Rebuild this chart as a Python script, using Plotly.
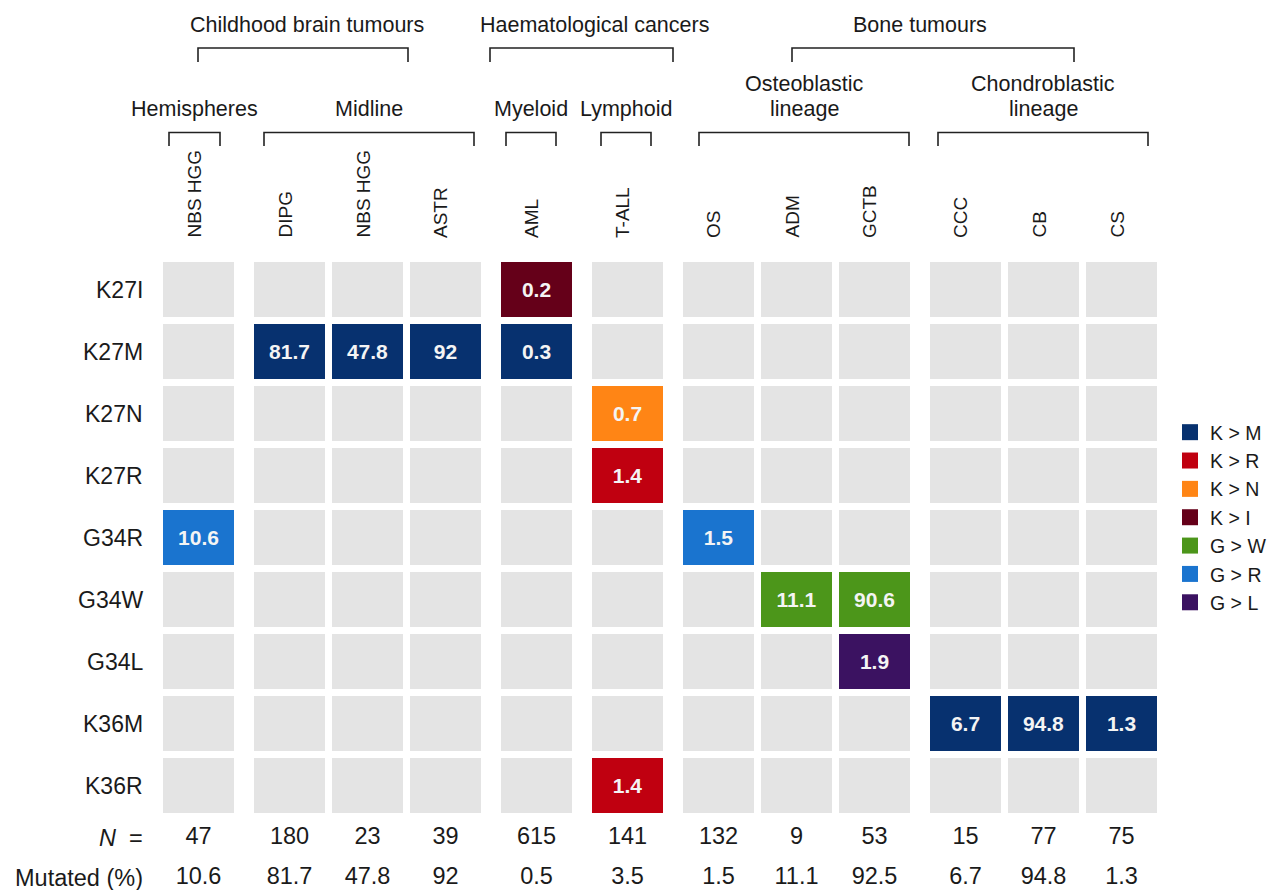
import plotly.graph_objects as go

# ---------------- data ----------------
columns = ["NBS HGG", "DIPG", "NBS HGG", "ASTR", "AML", "T-ALL",
           "OS", "ADM", "GCTB", "CCC", "CB", "CS"]
column_group = [0, 1, 1, 1, 2, 3, 4, 4, 4, 5, 5, 5]
mutations = ["K27I", "K27M", "K27N", "K27R", "G34R", "G34W", "G34L", "K36M", "K36R"]
n_samples = [47, 180, 23, 39, 615, 141, 132, 9, 53, 15, 77, 75]
mutated_pct = [10.6, 81.7, 47.8, 92, 0.5, 3.5, 1.5, 11.1, 92.5, 6.7, 94.8, 1.3]

hit_row = ["K27I", "K27M", "K27M", "K27M", "K27M", "K27N", "K27R", "G34R",
           "G34R", "G34W", "G34W", "G34L", "K36M", "K36M", "K36M", "K36R"]
hit_col = [4, 1, 2, 3, 4, 5, 5, 0, 6, 7, 8, 8, 9, 10, 11, 5]
hit_pct = [0.2, 81.7, 47.8, 92, 0.3, 0.7, 1.4, 10.6, 1.5, 11.1, 90.6, 1.9,
           6.7, 94.8, 1.3, 1.4]
hit_change = ["K > I", "K > M", "K > M", "K > M", "K > M", "K > N", "K > R",
              "G > R", "G > R", "G > W", "G > W", "G > L", "K > M", "K > M",
              "K > M", "K > R"]
changes = ["K > M", "K > R", "K > N", "K > I", "G > W", "G > R", "G > L"]

subgroups = ["Hemispheres", "Midline", "Myeloid", "Lymphoid",
             "Osteoblastic<br>lineage", "Chondroblastic<br>lineage"]
subgroup_cols = [(0, 0), (1, 3), (4, 4), (5, 5), (6, 8), (9, 11)]
supergroups = ["Childhood brain tumours", "Haematological cancers", "Bone tumours"]
supergroup_cols = [(0, 3), (4, 5), (6, 11)]

# ---------------- styles / layout ----------------
FONT = "Liberation Sans, Arial, sans-serif"
INK = "#1a1a1a"
GRAY = "#e4e4e4"
COLORS = {"K > M": "#07316f", "K > R": "#c00010", "K > N": "#ff8515",
          "K > I": "#650019", "G > W": "#4c961a", "G > R": "#1a74cf",
          "G > L": "#3b1261"}
W, H = 1278, 890
OFF = 8  # page body margin; the plot area is mapped onto window pixels
X0, PITCH, GAP = 198.5, 78, 13
Y0, RPITCH = 289.5, 62
CELL_W, CELL_H = 71, 55
N_Y, MUT_Y = 838, 878
LABEL_X = 145
COLLABEL_Y = 240
SUB_Y, SUB_LINE = 109, 25
SUB_BR = (132.5, 146)
SUB_PAD = [(-29.5, 21.5), (-25.5, 28.5), (-30.5, 19.5), (-26.5, 23.5),
           (-19.5, 34.5), (-27.5, 26.5)]
SUP_Y = 25
SUP_BR = (48, 62)
SUP_PAD = [(-0.5, -37.5), (-46.5, 45.5), (73.5, -47.5)]
SUP_TXT_SHIFT = [3.5, 12.5, -13]

col_x = [X0 + i * PITCH + g * GAP for i, g in enumerate(column_group)]
row_y = {m: Y0 + j * RPITCH for j, m in enumerate(mutations)}

fig = go.Figure()

# gray empty cells
hits = set(zip(hit_row, hit_col))
gx, gb = [], []
for m in mutations:
    for i in range(len(columns)):
        if (m, i) not in hits:
            gx.append(col_x[i])
            gb.append(row_y[m] - CELL_H / 2)
fig.add_trace(go.Bar(x=gx, y=[CELL_H] * len(gx), base=gb, width=CELL_W,
                     marker=dict(color=GRAY, line=dict(width=0)),
                     showlegend=False, hoverinfo="skip"))

# coloured mutated cells, one trace per change
for ch in changes:
    idx = [k for k, c in enumerate(hit_change) if c == ch]
    fig.add_trace(go.Bar(
        x=[col_x[hit_col[k]] for k in idx],
        y=[CELL_H] * len(idx),
        base=[row_y[hit_row[k]] - CELL_H / 2 for k in idx],
        width=CELL_W,
        marker=dict(color=COLORS[ch], line=dict(width=0)),
        text=[f"<b>{hit_pct[k]:g}</b>" for k in idx],
        textposition="inside", insidetextanchor="middle", textangle=0,
        constraintext="none",
        textfont=dict(family=FONT, size=21, color="#f4f4f4"),
        showlegend=False, hoverinfo="skip"))

# legend entries
for ch in changes:
    fig.add_trace(go.Scatter(x=[None], y=[None], mode="markers", name=ch,
                             marker=dict(symbol="square", size=16, color=COLORS[ch])))

# N and mutated rows
fig.add_trace(go.Scatter(x=col_x, y=[N_Y] * len(col_x), mode="text",
                         text=[str(v) for v in n_samples],
                         textfont=dict(family=FONT, size=23.5, color=INK),
                         showlegend=False, hoverinfo="skip"))
fig.add_trace(go.Scatter(x=col_x, y=[MUT_Y] * len(col_x), mode="text",
                         text=[f"{v:g}" for v in mutated_pct],
                         textfont=dict(family=FONT, size=23.5, color=INK),
                         showlegend=False, hoverinfo="skip"))

ann = []
# row labels
for m in mutations:
    ann.append(dict(x=LABEL_X, y=row_y[m], text=m, xanchor="right", yanchor="middle",
                    font=dict(family=FONT, size=23, color=INK)))
ann.append(dict(x=LABEL_X, y=N_Y, text="<i>N</i>\u00a0\u00a0=", xanchor="right",
                yanchor="middle", font=dict(family=FONT, size=23.5, color=INK)))
ann.append(dict(x=LABEL_X, y=MUT_Y, text="Mutated (%)", xanchor="right",
                yanchor="middle", font=dict(family=FONT, size=23.5, color=INK)))

# column labels
for i, c in enumerate(columns):
    ann.append(dict(x=col_x[i], y=COLLABEL_Y, text=c, textangle=-90,
                    xanchor="center", yanchor="bottom", xshift=-5,
                    font=dict(family=FONT, size=19, color=INK)))

shapes = []
# sub-group brackets and labels
for k, (lab, (a, b)) in enumerate(zip(subgroups, subgroup_cols)):
    left = col_x[a] + SUB_PAD[k][0]
    right = col_x[b] + SUB_PAD[k][1]
    shapes.append(dict(type="path", xref="x", yref="y",
                       path=f"M{left},{SUB_BR[1]} L{left},{SUB_BR[0]} L{right},{SUB_BR[0]} L{right},{SUB_BR[1]}",
                       line=dict(color="#222222", width=1.6)))
    lines = lab.split("<br>")
    for li, t in enumerate(reversed(lines)):
        ann.append(dict(x=(left + right) / 2, y=SUB_Y - li * SUB_LINE, text=t,
                        xanchor="center", yanchor="middle",
                        font=dict(family=FONT, size=21.5, color=INK)))

# super-group brackets and labels
for k, (lab, (a, b)) in enumerate(zip(supergroups, supergroup_cols)):
    left = col_x[a] + SUP_PAD[k][0]
    right = col_x[b] + SUP_PAD[k][1]
    shapes.append(dict(type="path", xref="x", yref="y",
                       path=f"M{left},{SUP_BR[1]} L{left},{SUP_BR[0]} L{right},{SUP_BR[0]} L{right},{SUP_BR[1]}",
                       line=dict(color="#222222", width=1.6)))
    ann.append(dict(x=(left + right) / 2 + SUP_TXT_SHIFT[k], y=SUP_Y, text=lab,
                    xanchor="center", yanchor="middle",
                    font=dict(family=FONT, size=21.5, color=INK)))

for a in ann:
    a.update(xref="x", yref="y", showarrow=False)

PW, PH = W - OFF, H - OFF
fig.update_layout(
    width=PW, height=PH, autosize=False,
    margin=dict(l=0, r=0, t=0, b=0),
    paper_bgcolor="white", plot_bgcolor="white",
    barmode="overlay", hovermode=False,
    xaxis=dict(range=[OFF, W], visible=False, fixedrange=True),
    yaxis=dict(range=[H, OFF], visible=False, fixedrange=True),
    annotations=ann, shapes=shapes,
    legend=dict(x=(1170 - OFF) / PW, y=1 - (413 - OFF) / PH,
                xanchor="left", yanchor="top",
                font=dict(family=FONT, size=19.5, color=INK),
                bgcolor="rgba(0,0,0,0)", tracegroupgap=0,
                itemclick=False, itemdoubleclick=False),
    font=dict(family=FONT, color=INK),
)

fig.write_html("out.html")
